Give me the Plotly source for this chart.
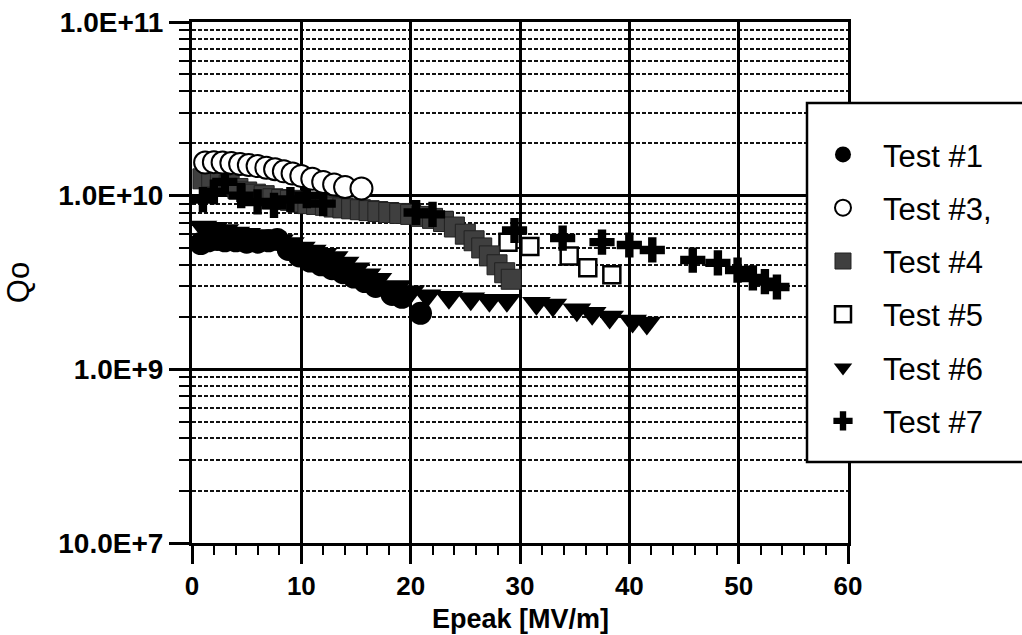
import plotly.graph_objects as go

# Qo versus peak surface field for six cavity tests
t1_e = [0.8, 1.5, 2.3, 3.0, 4.0, 5.0, 6.0, 7.0, 7.8, 8.8, 9.8, 10.8, 11.8, 12.8, 13.8, 14.8, 15.8, 16.8, 18.3, 19.2, 20.9]
t1_q = [5.3e9, 5.5e9, 5.6e9, 5.5e9, 5.5e9, 5.4e9, 5.4e9, 5.5e9, 5.6e9, 4.9e9, 4.5e9, 4.2e9, 4.0e9, 3.8e9,
        3.6e9, 3.4e9, 3.2e9, 3.0e9, 2.7e9, 2.6e9, 2.1e9]

t3_e = [1.2, 2.0, 2.8, 3.6, 4.4, 5.2, 6.0, 6.8, 7.6, 8.4, 9.2, 10.0, 11.0, 12.0, 13.0, 14.0, 15.5]
t3_q = [1.55e10, 1.56e10, 1.55e10, 1.54e10, 1.52e10, 1.50e10, 1.48e10, 1.45e10, 1.42e10, 1.38e10,
        1.34e10, 1.30e10, 1.25e10, 1.20e10, 1.16e10, 1.12e10, 1.10e10]

t4_e = [1.0, 1.8, 2.6, 3.4, 4.2, 5.0, 5.8, 6.6, 7.4, 8.2, 9.0, 9.8, 10.6, 11.4, 12.2, 13.0, 13.8, 14.6,
        15.4, 16.2, 17.0, 18.0, 19.0, 20.0, 21.0, 22.0, 23.0, 24.0, 25.0, 25.8, 26.5, 27.2, 27.9, 28.6, 29.2]
t4_q = [1.25e10, 1.28e10, 1.20e10, 1.15e10, 1.10e10, 1.05e10, 1.02e10, 1.00e10, 9.6e9, 9.5e9, 9.4e9,
        9.2e9, 9.0e9, 8.9e9, 8.8e9, 8.6e9, 8.5e9, 8.4e9, 8.3e9, 8.2e9, 8.1e9, 8.0e9, 7.9e9, 7.8e9, 7.6e9,
        7.4e9, 7.1e9, 6.6e9, 6.0e9, 5.5e9, 5.0e9, 4.5e9, 4.0e9, 3.6e9, 3.3e9]

t5_e = [1.5, 2.5, 21.0, 23.0, 28.9, 30.9, 34.5, 36.2, 38.4]
t5_q = [1.30e10, 1.25e10, 7.6e9, 7.2e9, 5.4e9, 5.1e9, 4.5e9, 3.85e9, 3.5e9]

t6_e = [1.0, 2.0, 3.0, 4.0, 5.0, 6.0, 7.0, 8.0, 9.0, 10.0, 11.0, 12.0, 13.0, 14.0, 15.0, 16.0, 17.0,
        18.8, 20.0, 21.5, 23.5, 25.5, 27.2, 28.8, 31.5, 33.0, 35.2, 36.6, 38.2, 40.3, 41.6]
t6_q = [6.6e9, 6.5e9, 6.3e9, 6.1e9, 6.0e9, 5.9e9, 5.7e9, 5.5e9, 5.3e9, 5.0e9, 4.8e9, 4.6e9, 4.4e9,
        4.1e9, 3.8e9, 3.5e9, 3.3e9, 3.0e9, 2.8e9, 2.65e9, 2.6e9, 2.55e9, 2.5e9, 2.5e9, 2.4e9, 2.35e9,
        2.2e9, 2.1e9, 2.0e9, 1.9e9, 1.85e9]

t7_e = [1.0, 2.0, 3.0, 4.5, 6.0, 7.5, 9.0, 10.5, 12.0, 20.5, 22.0, 29.5, 33.9, 37.5, 40.0, 42.1,
        45.8, 48.1, 49.9, 51.3, 52.4, 53.5]
t7_q = [9.5e9, 1.05e10, 1.2e10, 1.0e10, 9.2e9, 8.8e9, 9.5e9, 1.0e10, 9.0e9, 8.0e9, 7.8e9, 6.3e9, 5.7e9,
        5.4e9, 5.2e9, 4.87e9, 4.26e9, 4.1e9, 3.73e9, 3.36e9, 3.2e9, 2.98e9]

x_ticks = [0, 10, 20, 30, 40, 50, 60]
y_ticks = [1e8, 1e9, 1e10, 1e11]
y_labels = ["10.0E+7", "1.0E+9", "1.0E+10", "1.0E+11"]

FONT = "Liberation Sans, Arial, sans-serif"

fig = go.Figure()

series = [
    ("Test #5", t5_e, t5_q, dict(symbol="square", size=17, color="white",
                                  line=dict(color="black", width=2.5)), 4),
    ("Test #4", t4_e, t4_q, dict(symbol="square", size=20, color="#3f3f3f",
                                  line=dict(color="#222222", width=1)), 3),
    ("Test #7", t7_e, t7_q, dict(symbol="cross", size=21, color="black",
                                  line=dict(width=0)), 6),
    ("Test #3,", t3_e, t3_q, dict(symbol="circle", size=22, color="white",
                                   line=dict(color="black", width=2)), 2),
    ("Test #6", t6_e, t6_q, dict(symbol="triangle-down", size=25, color="black",
                                  line=dict(width=0)), 5),
    ("Test #1", t1_e, t1_q, dict(symbol="circle", size=23, color="black",
                                  line=dict(width=0)), 1),
]

for name, xs, ys, mk, rank in series:
    fig.add_trace(go.Scatter(
        x=xs, y=ys, mode="markers", name=name, marker=mk,
        legendrank=rank, legendgroup=name,
    ))

tick_font = dict(family=FONT, size=28, color="black", weight="bold")

# legend frame, running past the right edge of the figure
fig.add_shape(
    type="rect", xref="paper", yref="paper",
    x0=0.9375, x1=1.28, y0=0.1555, y1=0.8445,
    line=dict(color="black", width=2.5), fillcolor="white", layer="above",
)

# x-axis title set just below the tick labels
fig.add_annotation(
    text="Epeak [MV/m]", xref="paper", yref="paper", x=0.5, y=-0.146,
    xanchor="center", yanchor="middle", showarrow=False,
    font=dict(family=FONT, size=27, color="black", weight="bold"),
)

fig.update_layout(
    width=1022, height=635,
    margin=dict(l=192, r=174, t=22, b=92),
    paper_bgcolor="white", plot_bgcolor="white",
    showlegend=True,
    legend=dict(
        x=0.9314, xanchor="left", y=0.797, yanchor="top",
        borderwidth=0, bgcolor="rgba(0,0,0,0)",
        font=dict(family=FONT, size=31, color="black"),
        tracegroupgap=10, itemsizing="trace", itemwidth=70,
    ),
    xaxis=dict(
        range=[0, 60], tickvals=x_ticks, ticks="outside", ticklen=18, tickwidth=2.5,
        tickcolor="black", showgrid=True, gridcolor="black", gridwidth=2.5,
        showline=True, linecolor="black", linewidth=3, mirror=True, zeroline=False,
        tickfont=dict(family=FONT, size=26, color="black", weight="bold"),
        ticklabelstandoff=0, automargin=False,
        minor=dict(dtick=2, ticks="outside", ticklen=9, tickwidth=2, tickcolor="black", showgrid=False),
    ),
    yaxis=dict(
        type="log", range=[8, 11], tickvals=y_ticks, ticktext=y_labels,
        ticks="outside", ticklen=20, tickwidth=2.5, tickcolor="black",
        showgrid=True, gridcolor="black", gridwidth=2.5,
        showline=True, linecolor="black", linewidth=3, mirror=True, zeroline=False,
        tickfont=tick_font, automargin=False,
        minor=dict(dtick="D1", ticks="outside", ticklen=10, tickwidth=2, tickcolor="black",
                   showgrid=True, gridcolor="#111111", gridwidth=2, griddash="4px,2px"),
        title=dict(text="Qo", standoff=20,
                   font=dict(family=FONT, size=31, color="black")),
    ),
)

fig.write_html("out.html")
